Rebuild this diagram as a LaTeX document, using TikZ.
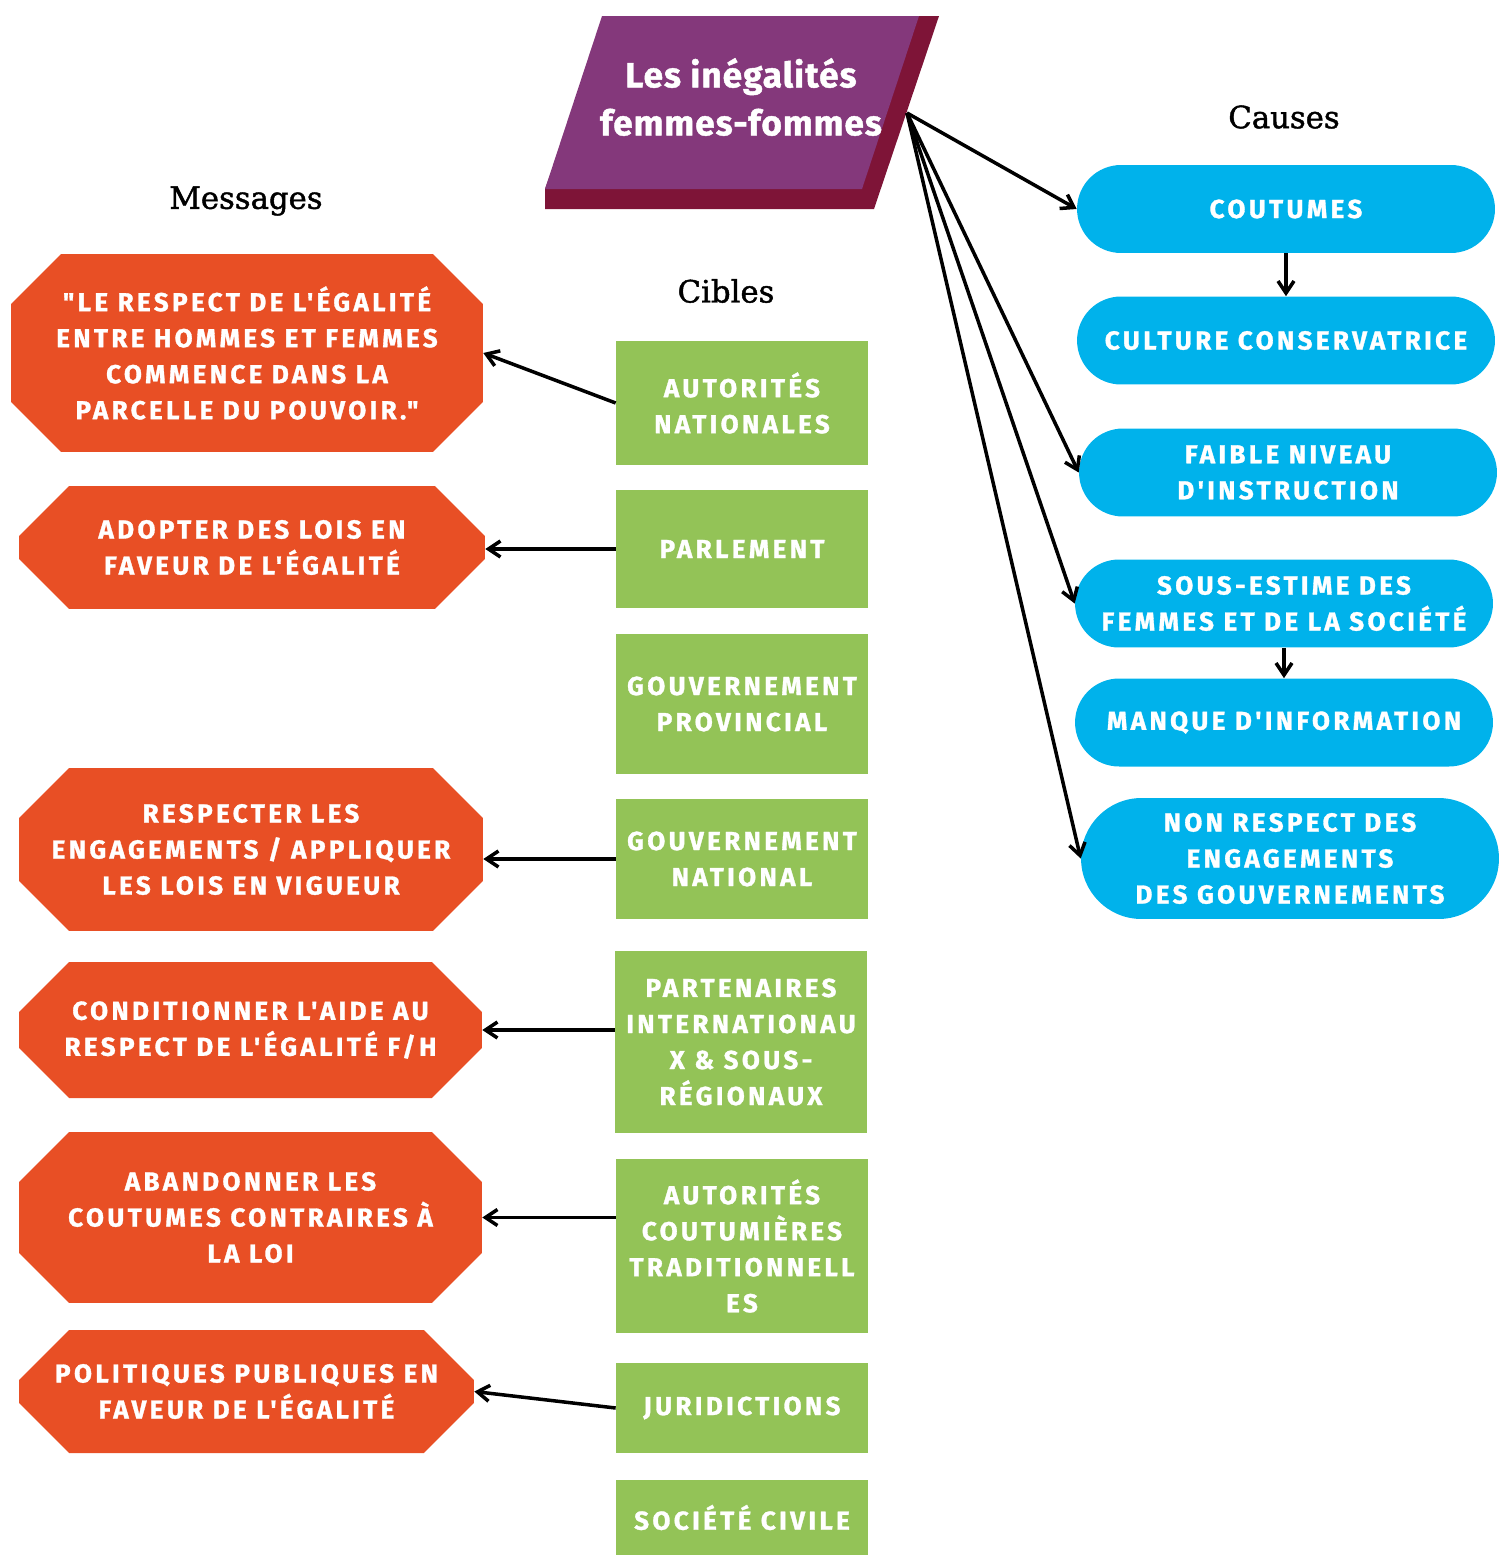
\documentclass[tikz,border=0pt]{standalone}
\usepackage{fontspec}
\usetikzlibrary{calc}
\usetikzlibrary{shapes.misc}
\usetikzlibrary{arrows.meta}
\newfontfamily\boxfont{Fira Sans}[LetterSpace=13, FakeBold=1.2, Ligatures=TeXOff]
\newfontfamily\titlefont{Fira Sans}[LetterSpace=3, FakeBold=1.2]
\newfontfamily\headfont{DejaVu Serif}[FakeBold=1.4]
\definecolor{titlepurple}{RGB}{132,56,123}
\definecolor{titleshade}{RGB}{126,20,55}
\definecolor{msgred}{RGB}{232,79,37}
\definecolor{targetgreen}{RGB}{147,195,87}
\definecolor{causeblue}{RGB}{0,178,235}

\begin{document}
\begin{tikzpicture}[x=0.02cm, y=-0.02cm, >={Straight Barb[length=2.4mm,width=3.2mm]},
  heading/.style={font=\headfont\fontsize{17.5}{20}\selectfont},
  boxtext/.style={inner sep=0, text=white, align=center, font=\boxfont\bfseries\fontsize{14.8}{20.5}\selectfont},
  msg/.style={boxtext, path picture={
    \fill[msgred] ($(path picture bounding box.north west)+(1cm,0)$) -- ($(path picture bounding box.north east)+(-1cm,0)$)
      -- ($(path picture bounding box.north east)+(0,-1cm)$) -- ($(path picture bounding box.south east)+(0,1cm)$)
      -- ($(path picture bounding box.south east)+(-1cm,0)$) -- ($(path picture bounding box.south west)+(1cm,0)$)
      -- ($(path picture bounding box.south west)+(0,1cm)$) -- ($(path picture bounding box.north west)+(0,-1cm)$) -- cycle;}},
  target/.style={boxtext, fill=targetgreen, minimum width=5.04cm},
  cause/.style={boxtext, rounded rectangle, fill=causeblue, minimum width=8.36cm, minimum height=1.76cm},
  link/.style={->, line width=2pt}]

\useasboundingbox (0,0) rectangle (1500,1555);

% title
\fill[titleshade] (608,16) -- (939,16) -- (874,209) -- (545,209) -- (545,189) -- cycle;
\fill[titlepurple] (602,16) -- (919,16) -- (862,189) -- (545,189) -- cycle;
\node[align=center, text=white, font=\titlefont\bfseries\fontsize{20}{27.3}\selectfont] (title) at (741,97) {Les inégalités\\femmes-fommes};
\coordinate (hub) at (907,113);

\node[heading] (hmsg) at (246,201) {Messages};
\node[heading] (hcib) at (726,291) {Cibles};
\node[heading] (hcau) at (1284,117) {Causes};

% messages
\node[msg, minimum width=9.44cm, minimum height=3.96cm] (m1) at (247,353) {"LE RESPECT DE L'ÉGALITÉ\\ENTRE HOMMES ET FEMMES\\COMMENCE DANS LA\\PARCELLE DU POUVOIR."};
\node[msg, minimum width=9.32cm, minimum height=2.46cm] (m2) at (252,547.5) {ADOPTER DES LOIS EN\\FAVEUR DE L'ÉGALITÉ};
\node[msg, minimum width=9.28cm, minimum height=3.26cm] (m3) at (251,849.5) {RESPECTER LES\\ENGAGEMENTS / APPLIQUER\\LES LOIS EN VIGUEUR};
\node[msg, minimum width=9.26cm, minimum height=2.72cm] (m4) at (250.5,1030) {CONDITIONNER L'AIDE AU\\RESPECT DE L'ÉGALITÉ F/H};
\node[msg, minimum width=9.26cm, minimum height=3.42cm] (m5) at (250.5,1217.5) {ABANDONNER LES\\COUTUMES CONTRAIRES À\\LA LOI};
\node[msg, minimum width=9.1cm, minimum height=2.46cm] (m6) at (246.5,1391.5) {POLITIQUES PUBLIQUES EN\\FAVEUR DE L'ÉGALITÉ};

% cibles
\node[target, minimum height=2.48cm] (t1) at (742,403) {AUTORITÉS\\NATIONALES};
\node[target, minimum height=2.36cm] (t2) at (742,549) {PARLEMENT};
\node[target, minimum height=2.8cm] (t3) at (742,704) {GOUVERNEMENT\\PROVINCIAL};
\node[target, minimum height=2.4cm] (t4) at (742,859) {GOUVERNEMENT\\NATIONAL};
\node[target, minimum height=3.64cm] (t5) at (741,1042) {PARTENAIRES\\INTERNATIONAU\\X \& SOUS-\\RÉGIONAUX};
\node[target, minimum height=3.48cm] (t6) at (742,1246) {AUTORITÉS\\COUTUMIÈRES\\TRADITIONNELL\\ES};
\node[target, minimum height=1.8cm] (t7) at (742,1408) {JURIDICTIONS};
\node[target, minimum height=1.5cm] (t8) at (742,1517.5) {SOCIÉTÉ CIVILE};

% causes
\node[cause] (c1) at (1286,209) {COUTUMES};
\node[cause] (c2) at (1286,340.5) {CULTURE CONSERVATRICE};
\node[cause] (c3) at (1288,472.5) {FAIBLE NIVEAU\\D'INSTRUCTION};
\node[cause] (c4) at (1284,603.5) {SOUS-ESTIME DES\\FEMMES ET DE LA SOCIÉTÉ};
\node[cause] (c5) at (1284,722.5) {MANQUE D'INFORMATION};
\node[cause, minimum height=2.42cm] (c6) at (1290,858.5) {NON RESPECT DES\\ENGAGEMENTS\\DES GOUVERNEMENTS};

\draw[link] (hub) -- (c1.west);
\draw[link] (hub) -- (c3.west);
\draw[link] (hub) -- (c4.west);
\draw[link] (hub) -- (c6.west);
\draw[link] (c1.south) -- (c2.north);
\draw[link] (c4.south) -- (c5.north);

\draw[link] (t1.west) -- (m1.east);
\draw[link] (t2.west) -- (t2.west -| m2.east);
\draw[link] (t4.west) -- (t4.west -| m3.east);
\draw[link] (t5.west |- m4.east) -- (m4.east);
\draw[link] (t6.west |- m5.east) -- (m5.east);
\draw[link] (t7.west) -- (m6.east);

\end{tikzpicture}
\end{document}
